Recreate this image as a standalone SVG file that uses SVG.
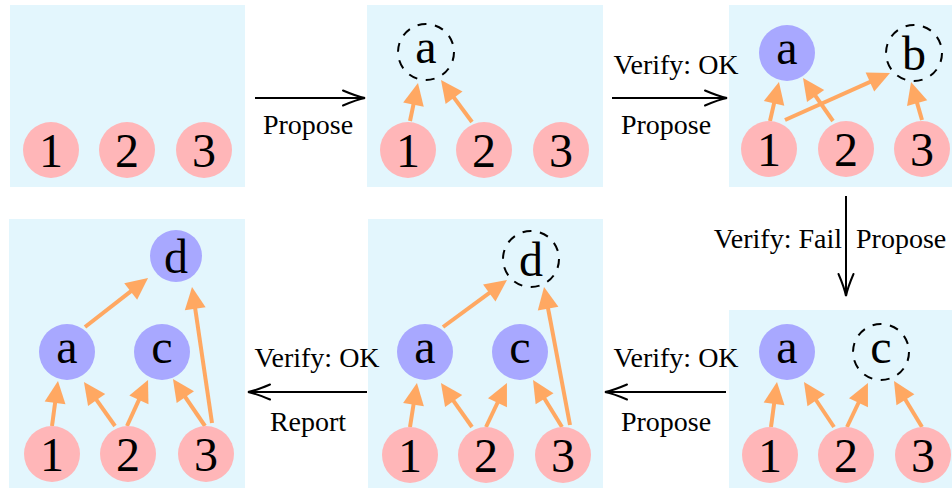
<svg xmlns="http://www.w3.org/2000/svg" width="952" height="488" viewBox="0 0 952 488">
<style>
.panel{fill:#E3F6FD}
.leaf{fill:#FFB6B8}
.inner{fill:#A8A8FF}
.prop{fill:none;stroke:#000;stroke-width:2;stroke-dasharray:9 8.6}
.nl{font-family:"Liberation Serif","Times New Roman",serif;font-size:48px;text-anchor:middle;fill:#000}
.el{font-family:"Liberation Serif","Times New Roman",serif;font-size:28px;fill:#000}
.mid{text-anchor:middle}
.oa{stroke:#FFA862;stroke-width:4;fill:none;marker-end:url(#oh)}
.ba{stroke:#000;stroke-width:2;fill:none;marker-end:url(#bh)}
</style>
<defs>
<marker id="oh" markerUnits="userSpaceOnUse" orient="auto" refX="0" refY="0" markerWidth="30" markerHeight="30" overflow="visible">
<path d="M15,0 L-7,-10.5 L-7,10.5 Z" fill="#FFA862"/>
</marker>
<marker id="bh" markerUnits="userSpaceOnUse" orient="auto" refX="0" refY="0" markerWidth="30" markerHeight="30" overflow="visible">
<path d="M-22,-7.5 Q-8,-1.5 0,0 Q-8,1.5 -22,7.5" fill="none" stroke="#000" stroke-width="2" stroke-linecap="round"/>
</marker>
</defs>
<g id="panels">
<rect class="panel" x="10" y="5" width="235" height="182"/>
<rect class="panel" x="367" y="5" width="236" height="182"/>
<rect class="panel" x="729" y="5" width="223" height="182"/>
<rect class="panel" x="729" y="310" width="223" height="178"/>
<rect class="panel" x="368" y="219" width="235" height="269"/>
<rect class="panel" x="9" y="219" width="236" height="269"/>
</g>
<g id="connectors">
<line class="oa" x1="410" y1="121" x2="414.9" y2="97.7"/>
<line class="oa" x1="472" y1="122" x2="449.9" y2="92.1"/>
<line class="oa" x1="770" y1="121" x2="775.6" y2="96.6"/>
<line class="oa" x1="833" y1="121" x2="811.6" y2="90.3"/>
<line class="oa" x1="785" y1="120" x2="876.3" y2="79.1"/>
<line class="oa" x1="922" y1="120" x2="915.2" y2="96.4"/>
<line class="oa" x1="771" y1="427" x2="775.0" y2="396.9"/>
<line class="oa" x1="834" y1="427" x2="812.3" y2="394.5"/>
<line class="oa" x1="847" y1="427" x2="861.5" y2="396.5"/>
<line class="oa" x1="922" y1="427" x2="901.8" y2="393.8"/>
<line class="oa" x1="410" y1="427" x2="414.6" y2="397.8"/>
<line class="oa" x1="472" y1="427" x2="449.6" y2="395.3"/>
<line class="oa" x1="486" y1="427" x2="500.5" y2="396.5"/>
<line class="oa" x1="562" y1="427" x2="540.9" y2="392.8"/>
<line class="oa" x1="443" y1="327" x2="494.9" y2="288.9"/>
<line class="oa" x1="570" y1="425" x2="546.8" y2="301.7"/>
<line class="oa" x1="52" y1="426" x2="56.0" y2="395.9"/>
<line class="oa" x1="115" y1="426" x2="92.6" y2="394.3"/>
<line class="oa" x1="127" y1="426" x2="141.8" y2="393.6"/>
<line class="oa" x1="205" y1="426" x2="181.4" y2="391.4"/>
<line class="oa" x1="85" y1="327" x2="136.2" y2="287.2"/>
<line class="oa" x1="212" y1="423" x2="194.2" y2="301.8"/>
<line class="ba" x1="255" y1="98" x2="365" y2="98"/>
<line class="ba" x1="612" y1="98" x2="727" y2="98"/>
<line class="ba" x1="846" y1="196" x2="846" y2="296"/>
<line class="ba" x1="726" y1="392" x2="605" y2="392"/>
<line class="ba" x1="367" y1="392" x2="248" y2="392"/>
<text class="el mid" x="308" y="134">Propose</text>
<text class="el mid" x="676" y="74">Verify: OK</text>
<text class="el mid" x="666" y="134">Propose</text>
<text class="el" x="842" y="248" text-anchor="end">Verify: Fail</text>
<text class="el" x="856" y="248">Propose</text>
<text class="el mid" x="676" y="367">Verify: OK</text>
<text class="el mid" x="666" y="431">Propose</text>
<text class="el mid" x="317" y="367">Verify: OK</text>
<text class="el mid" x="308" y="431">Report</text>
</g>
<g id="p1-n1"><circle class="leaf" cx="51" cy="150" r="28"/><text class="nl" x="51" y="167">1</text></g>
<g id="p1-n2"><circle class="leaf" cx="127" cy="150" r="28"/><text class="nl" x="127" y="167">2</text></g>
<g id="p1-n3"><circle class="leaf" cx="204" cy="150" r="28"/><text class="nl" x="204" y="167">3</text></g>
<g id="p2-a"><circle class="prop" cx="426" cy="52" r="28"/><text class="nl" x="426" y="63">a</text></g>
<g id="p2-n1"><circle class="leaf" cx="408" cy="150" r="28"/><text class="nl" x="408" y="167">1</text></g>
<g id="p2-n2"><circle class="leaf" cx="484" cy="150" r="28"/><text class="nl" x="484" y="167">2</text></g>
<g id="p2-n3"><circle class="leaf" cx="561" cy="150" r="28"/><text class="nl" x="561" y="167">3</text></g>
<g id="p3-a"><circle class="inner" cx="787" cy="53" r="28"/><text class="nl" x="787" y="64">a</text></g>
<g id="p3-b"><circle class="prop" cx="914" cy="53" r="28"/><text class="nl" x="914" y="70">b</text></g>
<g id="p3-n1"><circle class="leaf" cx="769" cy="149" r="28"/><text class="nl" x="769" y="166">1</text></g>
<g id="p3-n2"><circle class="leaf" cx="846" cy="149" r="28"/><text class="nl" x="846" y="166">2</text></g>
<g id="p3-n3"><circle class="leaf" cx="922" cy="149" r="28"/><text class="nl" x="922" y="166">3</text></g>
<g id="p4-a"><circle class="inner" cx="787" cy="352" r="28"/><text class="nl" x="787" y="363">a</text></g>
<g id="p4-c"><circle class="prop" cx="881" cy="352" r="28"/><text class="nl" x="881" y="363">c</text></g>
<g id="p4-n1"><circle class="leaf" cx="770" cy="455" r="28"/><text class="nl" x="770" y="472">1</text></g>
<g id="p4-n2"><circle class="leaf" cx="846" cy="455" r="28"/><text class="nl" x="846" y="472">2</text></g>
<g id="p4-n3"><circle class="leaf" cx="923" cy="455" r="28"/><text class="nl" x="923" y="472">3</text></g>
<g id="p5-d"><circle class="prop" cx="531" cy="259" r="28"/><text class="nl" x="531" y="276">d</text></g>
<g id="p5-a"><circle class="inner" cx="425" cy="352" r="28"/><text class="nl" x="425" y="363">a</text></g>
<g id="p5-c"><circle class="inner" cx="520" cy="352" r="28"/><text class="nl" x="520" y="363">c</text></g>
<g id="p5-n1"><circle class="leaf" cx="410" cy="455" r="28"/><text class="nl" x="410" y="472">1</text></g>
<g id="p5-n2"><circle class="leaf" cx="486" cy="455" r="28"/><text class="nl" x="486" y="472">2</text></g>
<g id="p5-n3"><circle class="leaf" cx="563" cy="455" r="28"/><text class="nl" x="563" y="472">3</text></g>
<g id="p6-d"><circle class="inner" cx="176" cy="256" r="26"/><text class="nl" x="176" y="273">d</text></g>
<g id="p6-a"><circle class="inner" cx="67" cy="352" r="28"/><text class="nl" x="67" y="363">a</text></g>
<g id="p6-c"><circle class="inner" cx="162" cy="352" r="28"/><text class="nl" x="162" y="363">c</text></g>
<g id="p6-n1"><circle class="leaf" cx="52" cy="454" r="28"/><text class="nl" x="52" y="471">1</text></g>
<g id="p6-n2"><circle class="leaf" cx="128" cy="454" r="28"/><text class="nl" x="128" y="471">2</text></g>
<g id="p6-n3"><circle class="leaf" cx="206" cy="454" r="28"/><text class="nl" x="206" y="471">3</text></g>
</svg>
